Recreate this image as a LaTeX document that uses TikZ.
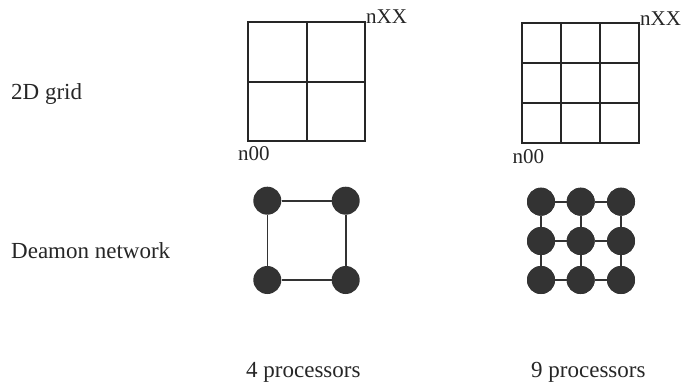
\documentclass[tikz,border=0pt]{standalone}
\usepackage{fontspec}
\setmainfont{Liberation Serif}
\begin{document}
\begin{tikzpicture}[x=1pt,y=-1pt,
  gridline/.style={draw=black!85,line width=1.8pt},
  proc/.style={circle,fill=black!80,minimum size=28pt,inner sep=0pt},
  link/.style={draw=black!80,line width=1.6pt},
  lbl/.style={font=\fontsize{23}{27}\selectfont,inner sep=0pt,anchor=base west,text=black!85},
  glbl/.style={font=\fontsize{21}{25}\selectfont,inner sep=0pt,anchor=base west,text=black!85}]
\useasboundingbox (0,0) rectangle (688,386);
% left grid 2x2
\draw[gridline] (247.7,21.7) rectangle (365,140.7);
\draw[gridline] (306.7,21.7) -- (306.7,140.7);
\draw[gridline] (247.7,81.7) -- (365,81.7);
\node[glbl] (lxx) at (366,23.5) {nXX};
\node[glbl] (l00) at (238,160) {n00};
% right grid 3x3
\draw[gridline] (521.7,23.3) rectangle (639.3,142.7);
\draw[gridline] (560.7,23.3) -- (560.7,142.7);
\draw[gridline] (600,23.3) -- (600,142.7);
\draw[gridline] (521.7,63.3) -- (639.3,63.3);
\draw[gridline] (521.7,103.3) -- (639.3,103.3);
\node[glbl] (rxx) at (640,25) {nXX};
\node[glbl] (r00) at (512.5,163) {n00};
% 4 processors
\node[proc] (a11) at (267.3,200.7) {};
\node[proc] (a12) at (345.7,200.7) {};
\node[proc] (a21) at (267.3,280) {};
\node[proc] (a22) at (345.7,280) {};
\draw[link] (a11) -- (a12) -- (a22) -- (a21) -- (a11);
% 9 processors
\foreach \i/\y in {1/201.7,2/241,3/280}{
  \foreach \j/\x in {1/541,2/580.7,3/621}{
    \node[proc] (b\i\j) at (\x,\y) {};
  }
}
\foreach \i in {1,2,3}{
  \draw[link] (b\i1) -- (b\i2) -- (b\i3);
  \draw[link] (b1\i) -- (b2\i) -- (b3\i);
}
\foreach \i in {1,2,3}{\foreach \j in {1,2,3}{\node[proc] at (b\i\j) {};}}
% labels
\node[lbl] (t1) at (11,99) {2D grid};
\node[lbl] (t2) at (11,258) {Deamon network};
\node[lbl] (t3) at (246,377) {4 processors};
\node[lbl] (t4) at (531,377) {9 processors};
\end{tikzpicture}
\end{document}
